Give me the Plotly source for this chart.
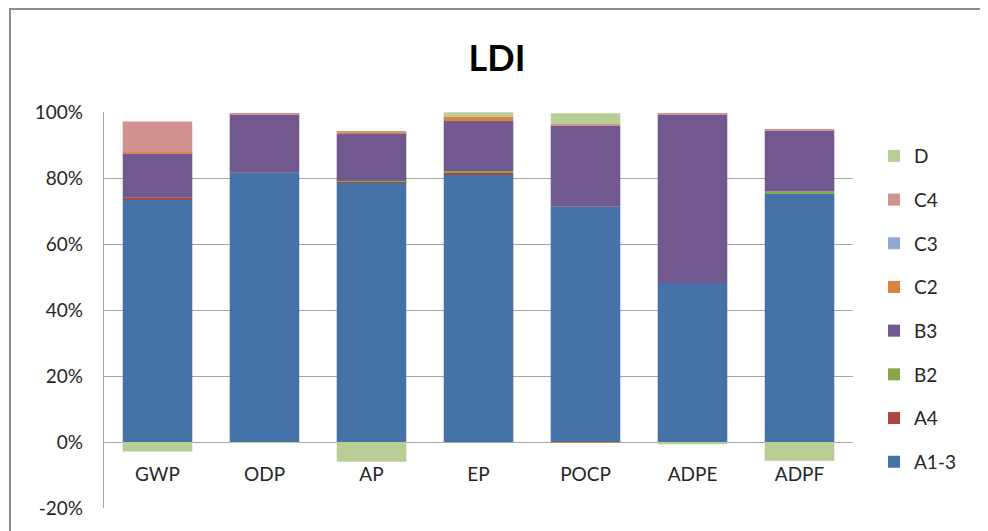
import plotly.graph_objects as go

categories = ["GWP", "ODP", "AP", "EP", "POCP", "ADPE", "ADPF"]

series_names = ["A1-3", "A4", "B2", "B3", "C2", "C3", "C4", "D"]
a13 = [73.5, 81.6, 78.6, 80.9, 71.3, 48.2, 75.3]
a4  = [0.5, 0.0, 0.3, 0.7, 0.0, 0.0, 0.0]
b2  = [0.0, 0.0, 0.3, 0.5, 0.0, 0.0, 0.6]
b3  = [13.5, 17.7, 14.3, 15.2, 24.7, 51.1, 18.4]
c2  = [0.3, 0.0, 0.3, 1.3, -0.3, 0.0, 0.0]
c3  = [0.0, 0.0, 0.0, 0.0, 0.0, 0.0, 0.0]
c4  = [9.3, 0.3, 0.3, 0.0, 0.3, 0.3, 0.4]
d   = [-2.9, -0.3, -6.0, 1.3, 3.3, -0.7, -5.7]

colors = ["#4572A7", "#AA4643", "#89A54E", "#71588F", "#DB843D", "#93A9CF", "#D19392", "#B9CD96"]
values = [a13, a4, b2, b3, c2, c3, c4, d]

y_ticks = [-20, 0, 20, 40, 60, 80, 100]
y_labels = ["-20%", "0%", "20%", "40%", "60%", "80%", "100%"]

FONT = "Lato, Open Sans, sans-serif"

# page has an 8px body margin; figure coordinates = page coordinates - 8
OFF = 8
W, H = 988 - OFF, 531 - OFF
L, T = 104 - OFF, 112 - OFF
R = W - (853 - OFF)
B = H - (508 - OFF)
PW, PH = W - L - R, H - T - B


def px(xpage):
    return (xpage - OFF - L) / PW


def py(ypage):
    return (H - B - (ypage - OFF)) / PH


fig = go.Figure()
n = len(series_names)
for i, (name, vals, col) in enumerate(zip(series_names, values, colors)):
    fig.add_trace(go.Bar(
        x=categories, y=vals, name=name, legendgroup=name, legendrank=n - i,
        marker=dict(color=col, line=dict(width=0)),
    ))

fig.update_layout(
    width=W, height=H,
    barmode="relative", bargap=0.35,
    paper_bgcolor="white", plot_bgcolor="white",
    margin=dict(l=L, r=R, t=T, b=B, autoexpand=False),
    font=dict(family=FONT, size=19, color="#262626"),
    title=dict(text="<b>LDI</b>", x=px(497), xref="paper", xanchor="center",
               y=(H - (58 - OFF)) / H, yanchor="middle",
               font=dict(family=FONT, size=36, color="black")),
    showlegend=True,
    legend=dict(traceorder="grouped", tracegroupgap=16,
                x=px(874), xanchor="left", y=py(137), yanchor="top",
                font=dict(family=FONT, size=19, color="#262626"),
                itemwidth=30, bgcolor="rgba(0,0,0,0)"),
    xaxis=dict(anchor="free", position=20 / 120, showgrid=False, showline=False,
               ticks="", ticklabelstandoff=19, zeroline=False),
    yaxis=dict(range=[-20, 100], tickvals=y_ticks, ticktext=y_labels,
               showgrid=True, gridcolor="#A6A6A6", gridwidth=1.3,
               zeroline=False, showline=True, linecolor="#A6A6A6", linewidth=1.3,
               ticks="", ticklabelstandoff=16),
    shapes=[dict(type="rect", xref="paper", yref="paper",
                 x0=px(10), x1=px(981), y0=py(545), y1=py(9),
                 line=dict(color="#8C8C8C", width=2), fillcolor="rgba(0,0,0,0)", layer="below")],
)

fig.write_html("out.html")
